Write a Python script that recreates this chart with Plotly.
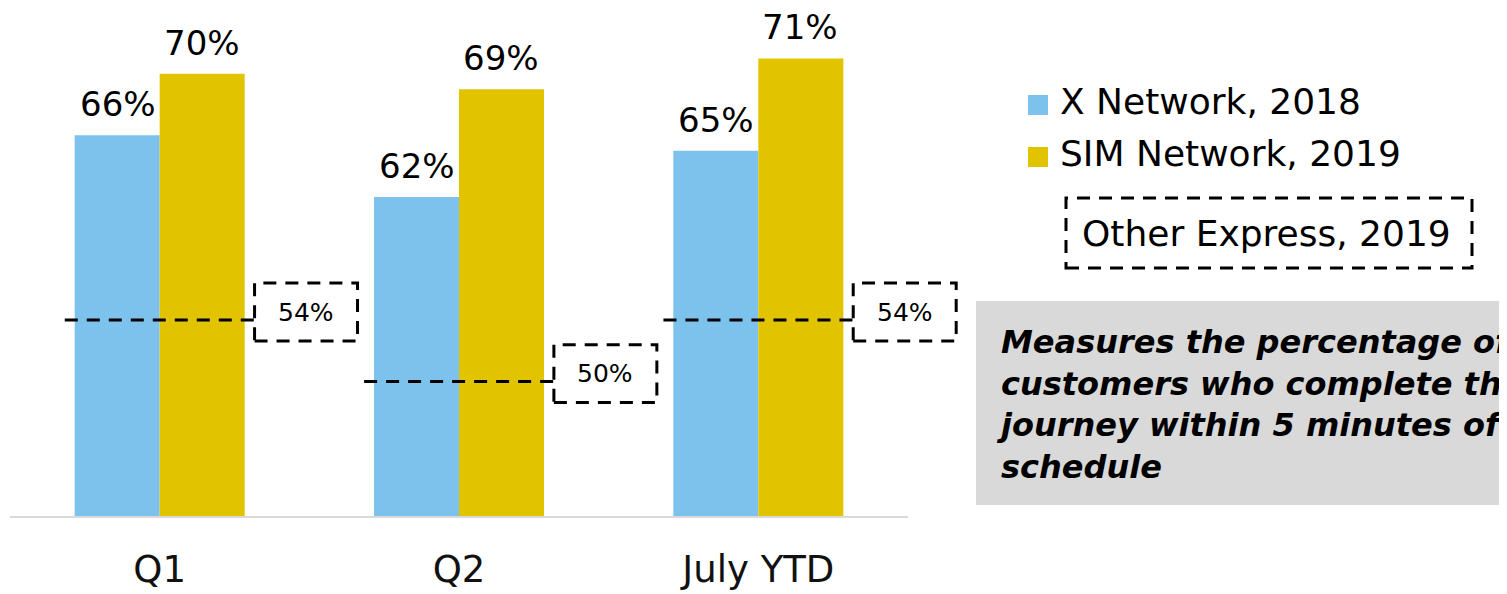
import plotly.graph_objects as go

categories = ["Q1", "Q2", "July YTD"]
series_names = ["X Network, 2018", "SIM Network, 2019"]
x_network_2018 = [66, 62, 65]
sim_network_2019 = [70, 69, 71]
other_express_name = "Other Express, 2019"
other_express_2019 = [54, 50, 54]
note_text = ("Measures the percentage of<br>customers who complete their<br>"
             "journey within 5 minutes of the<br>schedule")

W, H = 1507, 594
OFF = 8  # page body margin offset
BLUE = "#7DC1ED"
GOLD = "#E2C300"
FONT = "DejaVu Sans"
PX_PER_PCT = 15.39
Y_BASE = 41.2
CAT_PX = (908 - 10) / 3.0  # pixel width of one category slot
PLOT_LEFT, AXIS_RIGHT, PLOT_RIGHT = 10, 908, 968


def px(xp):
    return (xp - OFF) / W


def py(yp):
    return 1 - (yp - OFF) / H


fig = go.Figure()
for name, vals, col in [(series_names[0], x_network_2018, BLUE),
                        (series_names[1], sim_network_2019, GOLD)]:
    fig.add_trace(go.Bar(x=categories, y=vals, name=name, marker_color=col,
                         marker_line_width=0, showlegend=False))

# value labels above bars
for vals, shift in [(x_network_2018, -42), (sim_network_2019, 42)]:
    for c, v in zip(categories, vals):
        fig.add_annotation(x=c, y=v, text=f"{v}%", showarrow=False, xshift=shift,
                           yanchor="bottom", yshift=9,
                           font=dict(family=FONT, size=34, color="black"))

# other express dashed reference lines with dashed label boxes
DASH = "13px,9px"
for i, v in enumerate(other_express_2019):
    fig.add_shape(type="line", xref="x", yref="y", x0=i - 0.317, x1=i + 0.317,
                  y0=v, y1=v, line=dict(color="black", width=3, dash=DASH))
    fig.add_shape(type="rect", xref="x", yref="y", x0=i + 0.317, x1=i + 0.661,
                  y0=v - 1.36, y1=v + 2.40, line=dict(color="black", width=3, dash=DASH),
                  fillcolor="rgba(0,0,0,0)")
    fig.add_annotation(x=i + 0.489, y=v + 0.52, xref="x", yref="y", text=f"{v}%",
                       showarrow=False, font=dict(family=FONT, size=25, color="black"))

# baseline (category axis line) only under the bar groups
fig.add_shape(type="line", xref="paper", yref="paper", x0=px(PLOT_LEFT), x1=px(AXIS_RIGHT),
              y0=py(517), y1=py(517), line=dict(color="#D9D9D9", width=2))

# legend (manual)
for name, col, yc in [(series_names[0], BLUE, 105), (series_names[1], GOLD, 157)]:
    fig.add_shape(type="rect", xref="paper", yref="paper", x0=px(1028), x1=px(1048),
                  y0=py(yc + 10), y1=py(yc - 10), fillcolor=col, line_width=0)
    fig.add_annotation(xref="paper", yref="paper", x=px(1058), y=py(yc - 4), text=name,
                       showarrow=False, xanchor="left", yanchor="middle",
                       font=dict(family=FONT, size=36, color="black"))
fig.add_shape(type="rect", xref="paper", yref="paper", x0=px(1066), x1=px(1472),
              y0=py(268), y1=py(198), line=dict(color="black", width=3, dash=DASH),
              fillcolor="rgba(0,0,0,0)")
fig.add_annotation(xref="paper", yref="paper", x=px(1266), y=py(233), text=other_express_name,
                   showarrow=False, xanchor="center", yanchor="middle",
                   font=dict(family=FONT, size=36, color="black"))

# note box
fig.add_shape(type="rect", xref="paper", yref="paper", x0=px(976), x1=px(1580),
              y0=py(505), y1=py(301), fillcolor="#D9D9D9", line_width=0, layer="below")
fig.add_annotation(xref="paper", yref="paper", x=px(994), y=py(404), text=f"<b><i>{note_text}</i></b>",
                   showarrow=False, xanchor="left", yanchor="middle", align="left",
                   font=dict(family=FONT, size=32, color="black"))

plot_top_ref = OFF          # figure top edge sits at reference y = 8
plot_bottom_ref = 517
y_top = Y_BASE + (plot_bottom_ref - plot_top_ref) / PX_PER_PCT
x_right = 2.5 + (PLOT_RIGHT - AXIS_RIGHT) / CAT_PX

fig.update_layout(
    width=W, height=H, margin=dict(l=0, r=0, t=0, b=0),
    paper_bgcolor="white", plot_bgcolor="white",
    barmode="group", bargap=0.432, bargroupgap=0,
    xaxis=dict(domain=[px(PLOT_LEFT), px(PLOT_RIGHT)], range=[-0.5, x_right], autorange=False,
               showline=False, showgrid=False, zeroline=False, ticks="", ticklabelstandoff=27,
               tickfont=dict(family=FONT, size=37, color="#111111")),
    yaxis=dict(domain=[py(plot_bottom_ref), 1], range=[Y_BASE, y_top], autorange=False,
               visible=False, showgrid=False),
)
fig.write_html("out.html")
